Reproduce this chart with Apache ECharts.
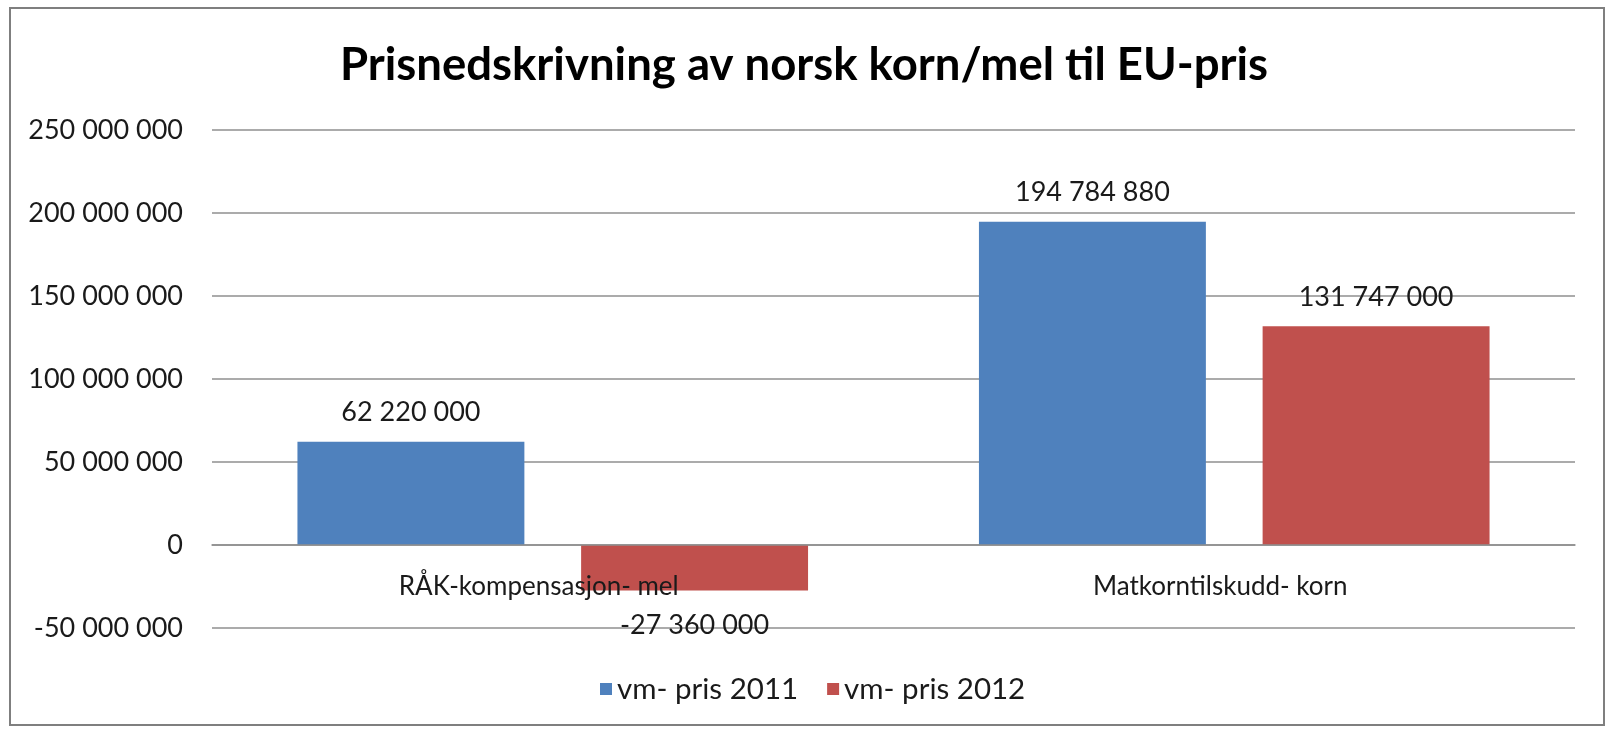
<!DOCTYPE html>
<html>
<head>
<meta charset="utf-8">
<script src="https://cdn.jsdelivr.net/npm/echarts@6/dist/echarts.min.js"></script>
<style>
html,body{margin:0;padding:0;background:#fff;}
#c{width:1608px;height:731px;}
</style>
</head>
<body>
<div id="c"></div>
<script>
const titleText = 'Prisnedskrivning av norsk korn/mel til EU-pris';
const categories = ['RÅK-kompensasjon- mel', 'Matkorntilskudd- korn'];
const seriesNames = ['vm- pris 2011', 'vm- pris 2012'];
const values2011 = [62220000, 194784880];
const values2012 = [-27360000, 131747000];
const yMin = -50000000, yMax = 250000000, yStep = 50000000;

function fmt(v){ return String(v).replace(/\B(?=(\d{3})+(?!\d))/g, ' '); }
function toData(arr){
  return arr.map(v => v < 0 ? {value: v, label: {position: 'bottom', distance: 21}} : {value: v});
}
const FONT = 'Lato';
const GRID_TOP = 130, GRID_BOTTOM = 103, H = 731;
const plotH = H - GRID_TOP - GRID_BOTTOM;
const zeroOffset = plotH * (0 - yMin) / (yMax - yMin);
const chart = echarts.init(document.getElementById('c'), null, {renderer: 'canvas'});
const labelStyle = {show: true, position: 'top', distance: 16, fontFamily: FONT, fontSize: 27, color: '#1a1a1a', formatter: p => fmt(p.value)};
chart.setOption({
  backgroundColor: '#fff',
  animation: false,
  graphic: [{type: 'rect', shape: {x: 10, y: 8, width: 1594, height: 717}, style: {fill: 'none', stroke: '#7f7f7f', lineWidth: 2}, silent: true}],
  title: {text: titleText, left: 'center', top: 37, textStyle: {fontFamily: FONT, fontWeight: 'bold', fontSize: 45.5, color: '#000'}},
  legend: {data: seriesNames, left: 600, top: 674, padding: 0, itemWidth: 12, itemHeight: 12, itemGap: 29, icon: 'rect',
    textStyle: {fontFamily: FONT, fontSize: 29.5, color: '#1a1a1a'}},
  grid: {left: 212, right: 33, top: GRID_TOP, bottom: GRID_BOTTOM, containLabel: false},
  xAxis: {type: 'category', data: categories, offset: -zeroOffset, z: 5,
    axisLine: {onZero: false, lineStyle: {color: '#8f8f8f', width: 1.5}},
    axisTick: {show: false},
    axisLabel: {margin: 29, padding: [0, 28, 0, 0], fontFamily: FONT, fontSize: 26, color: '#1a1a1a'}},
  yAxis: {type: 'value', min: yMin, max: yMax, interval: yStep,
    axisLine: {show: false}, axisTick: {show: false},
    splitLine: {lineStyle: {color: '#8f8f8f', width: 1.5}},
    axisLabel: {margin: 29, fontFamily: FONT, fontSize: 27, color: '#1a1a1a', formatter: v => fmt(v)}},
  series: [
    {name: seriesNames[0], type: 'bar', data: toData(values2011), barWidth: '33.3%', barGap: '25%', itemStyle: {color: '#4F81BD'}, label: labelStyle},
    {name: seriesNames[1], type: 'bar', data: toData(values2012), barWidth: '33.3%', barGap: '25%', itemStyle: {color: '#C0504D'}, label: labelStyle}
  ]
});
</script>
</body>
</html>
